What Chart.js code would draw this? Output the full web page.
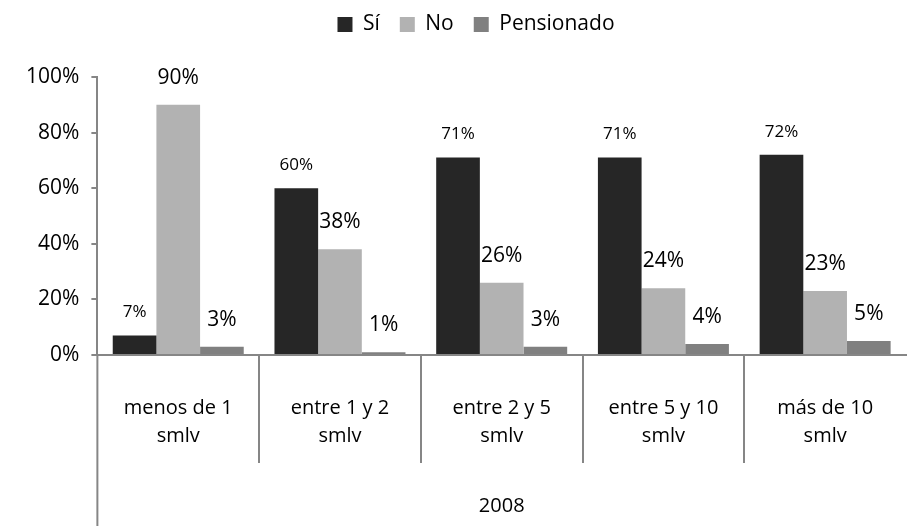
<!DOCTYPE html>
<html>
<head>
<meta charset="utf-8">
<script src="https://cdn.jsdelivr.net/npm/chart.js@4.4.1/dist/chart.umd.min.js"></script>
<style>
  html, body { margin: 0; padding: 0; background: #fff; }
  #wrap { width: 916px; height: 529px; position: relative; }
</style>
</head>
<body>
<div id="wrap"><canvas id="myChart"></canvas></div>
<script>
const categories = [
  ['menos de 1', 'smlv'],
  ['entre 1 y 2', 'smlv'],
  ['entre 2 y 5', 'smlv'],
  ['entre 5 y 10', 'smlv'],
  ['más de 10', 'smlv'],
];
const groupLabel = '2008';
const siValues = [7, 60, 71, 71, 72];
const noValues = [90, 38, 26, 24, 23];
const pensionadoValues = [3, 1, 3, 4, 5];
const yTicks = [0, 20, 40, 60, 80, 100];

const FONT = '"Open Sans", Lato, sans-serif';
const axisColor = '#868686';

// bar value labels, drawn above each bar (Sí labels are smaller in the original)
const valueLabels = {
  id: 'valueLabels',
  afterDatasetsDraw(chart) {
    const ctx = chart.ctx;
    ctx.save();
    ctx.fillStyle = '#000';
    ctx.textAlign = 'center';
    ctx.textBaseline = 'middle';
    chart.data.datasets.forEach((ds, di) => {
      const meta = chart.getDatasetMeta(di);
      const small = di === 0;
      ctx.font = (small ? '17px ' : '21px ') + FONT;
      meta.data.forEach((bar, i) => {
        ctx.fillText(ds.data[i] + '%', bar.x, bar.y - (small ? 23 : 27));
      });
    });
    ctx.restore();
  },
};

// separators under the x axis and the year label
const groupAxis = {
  id: 'groupAxis',
  afterDraw(chart) {
    const ctx = chart.ctx;
    const x = chart.scales.x;
    const area = chart.chartArea;
    ctx.save();
    ctx.strokeStyle = axisColor;
    ctx.lineWidth = 2;
    for (let i = 0; i < categories.length - 1; i++) {
      const bx = Math.round((x.getPixelForTick(i) + x.getPixelForTick(i + 1)) / 2);
      ctx.beginPath();
      ctx.moveTo(bx, area.bottom);
      ctx.lineTo(bx, area.bottom + 108);
      ctx.stroke();
    }
    ctx.beginPath();
    ctx.moveTo(area.left, area.bottom);
    ctx.lineTo(area.left, chart.height - 3);
    ctx.stroke();
    ctx.fillStyle = '#000';
    ctx.font = '20px ' + FONT;
    ctx.textAlign = 'center';
    ctx.textBaseline = 'middle';
    ctx.fillText(groupLabel, (area.left + area.right) / 2, area.bottom + 151);
    ctx.restore();
  },
};

// extra room under the legend, and legend nudged right like the original
const legendGap = {
  id: 'legendGap',
  beforeInit(chart) {
    const fit = chart.legend.fit;
    chart.legend.fit = function () {
      fit.bind(chart.legend)();
      this.height += 32;
    };
  },
  afterLayout(chart) {
    chart.legend.left += 16;
    chart.legend.right += 16;
  },
};

const myChart = new Chart(document.getElementById('myChart'), {
  type: 'bar',
  data: {
    labels: categories,
    datasets: [
      { label: 'Sí', data: siValues, backgroundColor: '#262626' },
      { label: 'No', data: noValues, backgroundColor: '#b2b2b2' },
      { label: 'Pensionado', data: pensionadoValues, backgroundColor: '#808080' },
    ],
  },
  options: {
    responsive: true,
    maintainAspectRatio: false,
    animation: false,
    datasets: { bar: { barPercentage: 1, categoryPercentage: 0.81 } },
    layout: { padding: { top: -6, right: 10, bottom: 48, left: 14 } },
    plugins: {
      tooltip: { enabled: false },
      legend: {
        position: 'top',
        labels: {
          font: { family: FONT, size: 21 },
          color: '#000',
          boxWidth: 15,
          boxHeight: 15,
          padding: 20,
        },
      },
    },
    scales: {
      x: {
        grid: { display: false },
        border: { color: axisColor, width: 2 },
        ticks: {
          color: '#000',
          font: { family: FONT, size: 20, lineHeight: 1.4 },
          padding: 31,
          maxRotation: 0,
          autoSkip: false,
        },
      },
      y: {
        min: 0,
        max: 100,
        afterBuildTicks: (scale) => {
          scale.ticks = yTicks.map((v) => ({ value: v }));
        },
        grid: { drawOnChartArea: false, color: axisColor, lineWidth: 2, tickLength: 6 },
        border: { color: axisColor, width: 2 },
        ticks: {
          color: '#000',
          font: { family: FONT, size: 21 },
          padding: 12,
          callback: (v) => v + '%',
        },
      },
    },
  },
  plugins: [valueLabels, groupAxis, legendGap],
});
</script>
</body>
</html>
